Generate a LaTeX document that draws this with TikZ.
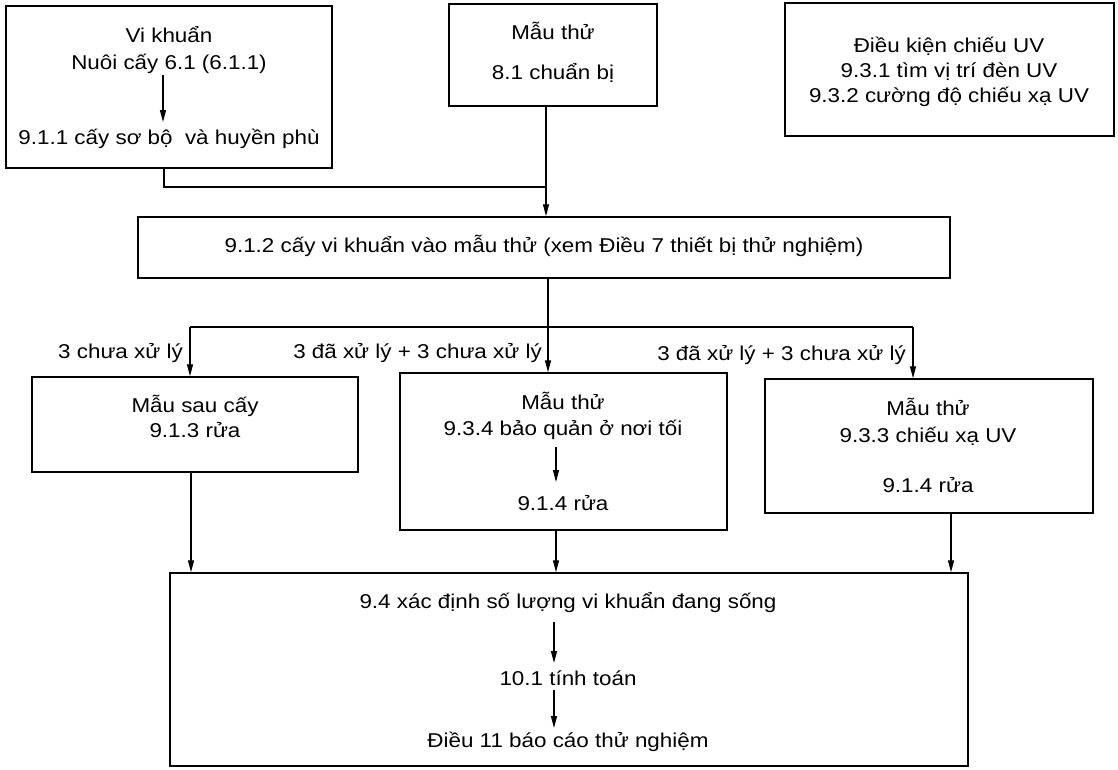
\documentclass[tikz,border=0pt]{standalone}
\usepackage{fontspec}
\setmainfont{Liberation Sans}[FakeStretch=1.12]
\usetikzlibrary{arrows.meta,fit,calc}
\begin{document}
\begin{tikzpicture}[x=1pt,y=-1pt,
  box/.style={draw,line width=1.5pt,inner sep=0pt},
  txt/.style={anchor=base,inner sep=2pt,font=\fontsize{20}{24}\selectfont},
  lbl/.style={anchor=base east,inner sep=1pt,font=\fontsize{20}{24}\selectfont},
  ln/.style={line width=1.4pt},
  arr/.style={line width=1.4pt,-{Triangle[length=12pt,width=6pt]}}]
\useasboundingbox (0,0) rectangle (1118,769);
% boxes
\node[box,fit={(6,6) (332,168)}] (b1) {};
\node[box,fit={(449,4) (657,106)}] (b2) {};
\node[box,fit={(785,3) (1114,136)}] (b3) {};
\node[box,fit={(138,217) (950,278)}] (b4) {};
\node[box,fit={(32,377) (358,472)}] (b5) {};
\node[box,fit={(400,373) (727,530)}] (b6) {};
\node[box,fit={(765,379) (1093,513)}] (b7) {};
\node[box,fit={(170,573) (968,766)}] (b8) {};
% texts
\node[txt] (b1t1) at (169,42) {Vi khuẩn};
\node[txt] (b1t2) at (169,69) {Nuôi cấy 6.1 (6.1.1)};
\node[txt] (b1t3) at (169,144) {9.1.1 cấy sơ bộ \ và huyền phù};
\node[txt] (b2t1) at (553,39) {Mẫu thử};
\node[txt] (b2t2) at (553,79) {8.1 chuẩn bị};
\node[txt] (b3t1) at (949,52) {Điều kiện chiếu UV};
\node[txt] (b3t2) at (949,77) {9.3.1 tìm vị trí đèn UV};
\node[txt] (b3t3) at (949,102) {9.3.2 cường độ chiếu xạ UV};
\node[txt] (b4t) at (544,252) {9.1.2 cấy vi khuẩn vào mẫu thử (xem Điều 7 thiết bị thử nghiệm)};
\node[txt] (b5t1) at (195,412) {Mẫu sau cấy};
\node[txt] (b5t2) at (195,437) {9.1.3 rửa};
\node[txt] (b6t1) at (563,409) {Mẫu thử};
\node[txt] (b6t2) at (563,435) {9.3.4 bảo quản ở nơi tối};
\node[txt] (b6t3) at (563,510) {9.1.4 rửa};
\node[txt] (b7t1) at (928,415) {Mẫu thử};
\node[txt] (b7t2) at (928,442) {9.3.3 chiếu xạ UV};
\node[txt] (b7t3) at (928,492) {9.1.4 rửa};
\node[txt] (b8t1) at (568,608) {9.4 xác định số lượng vi khuẩn đang sống};
\node[txt] (b8t2) at (568,685) {10.1 tính toán};
\node[txt] (b8t3) at (568,747) {Điều 11 báo cáo thử nghiệm};
% branch labels
\node[lbl] (l1) at (184,358) {3 chưa xử lý};
\node[lbl] (l2) at (543,358) {3 đã xử lý + 3 chưa xử lý};
\node[lbl] (l3) at (907,360) {3 đã xử lý + 3 chưa xử lý};
% junction coordinates
\coordinate (j1) at (164,187);
\coordinate (j2) at (546,187);
\coordinate (j3) at (548,327);
\coordinate (jl) at (190,327);
\coordinate (jr) at (913,327);
\coordinate (d1) at (191,0);
\coordinate (d2) at (556,0);
\coordinate (d3) at (951,0);
% connectors
\draw[ln] (b1.south -| j1) -- (j1) -- (j2);
\draw[arr] (b2.south -| j2) -- (b4.north -| j2);
\draw[ln] (b4.south -| j3) -- (j3);
\draw[ln] (jl) -- (jr);
\draw[arr] (jl) -- (b5.north -| jl);
\draw[arr] (j3) -- (b6.north -| j3);
\draw[arr] (jr) -- (b7.north -| jr);
\draw[arr] (b5.south -| d1) -- (b8.north -| d1);
\draw[arr] (b6.south -| d2) -- (b8.north -| d2);
\draw[arr] (b7.south -| d3) -- (b8.north -| d3);
% inner arrows
\coordinate (a1s) at (163,75); \coordinate (a1e) at (163,122);
\coordinate (a2s) at (556,447); \coordinate (a2e) at (556,482);
\coordinate (a3s) at (554,622); \coordinate (a3e) at (554,663);
\coordinate (a4s) at (554,690); \coordinate (a4e) at (554,728);
\draw[arr] (a1s) -- (a1e);
\draw[arr] (a2s) -- (a2e);
\draw[arr] (a3s) -- (a3e);
\draw[arr] (a4s) -- (a4e);
\end{tikzpicture}
\end{document}
